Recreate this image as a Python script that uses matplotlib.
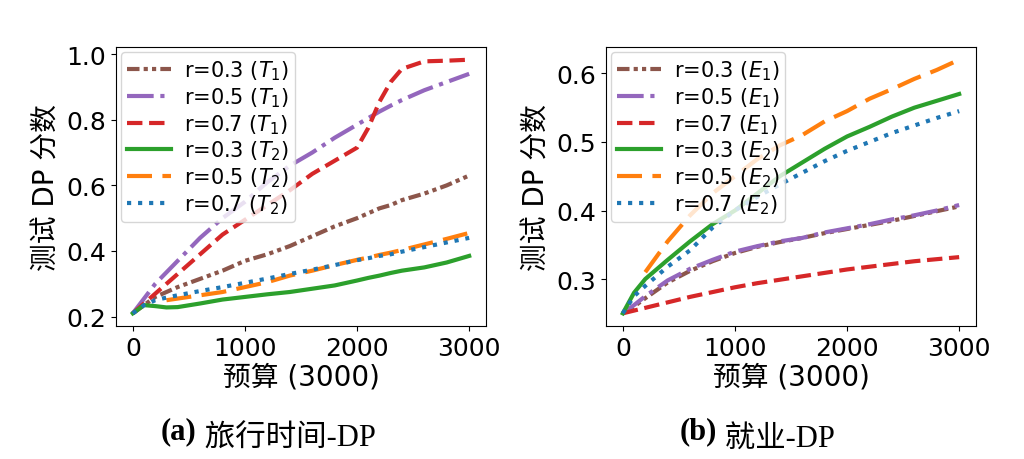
import numpy as np
import matplotlib
matplotlib.use("Agg")
import matplotlib.pyplot as plt

nan = np.nan

# ---- data ----
budget_a = [0, 100, 200, 300, 400, 600, 800, 1000, 1200, 1400, 1600, 1800,
            2000, 2100, 2200, 2300, 2400, 2600, 2800, 3000]
t1_r03 = [0.21, 0.235, 0.26, 0.275, 0.29, 0.315, 0.34, 0.37, 0.39, 0.415, 0.445,
          0.475, 0.50, 0.515, 0.53, 0.54, 0.555, 0.575, 0.60, 0.63]
t1_r05 = [0.21, 0.255, 0.30, 0.335, 0.37, 0.44, 0.50, 0.55, 0.61, 0.66, 0.70,
          0.745, 0.785, 0.805, 0.825, 0.843, 0.86, 0.89, 0.915, 0.94]
t1_r07 = [0.21, 0.24, 0.27, 0.30, 0.33, 0.39, 0.45, 0.495, 0.54, 0.585, 0.635,
          0.675, 0.715, 0.775, 0.855, 0.915, 0.955, 0.978, 0.98, 0.983]
t2_r03 = [0.21, 0.235, 0.232, 0.228, 0.229, 0.24, 0.252, 0.26, 0.268, 0.275,
          0.285, 0.295, 0.31, 0.318, 0.325, 0.333, 0.34, 0.35, 0.365, 0.385]
t2_r05 = [nan, nan, nan, 0.25, 0.255, 0.265, 0.275, 0.29, 0.305, 0.325, 0.34,
          0.357, 0.373, 0.38, 0.388, 0.395, 0.403, 0.42, 0.437, 0.455]
t2_r07 = [0.21, 0.235, 0.25, 0.258, 0.265, 0.278, 0.29, 0.303, 0.316, 0.33,
          0.343, 0.357, 0.372, 0.378, 0.385, 0.39, 0.398, 0.412, 0.426, 0.44]

budget_b = [0, 100, 200, 400, 600, 800, 1000, 1200, 1400, 1600, 1800, 2000,
            2200, 2400, 2600, 2800, 3000]
e1_r03 = [0.25, 0.26, 0.272, 0.295, 0.312, 0.326, 0.338, 0.347, 0.354, 0.36,
          0.367, 0.373, 0.379, 0.385, 0.392, 0.399, 0.406]
e1_r05 = [0.25, 0.262, 0.275, 0.298, 0.315, 0.328, 0.34, 0.348, 0.355, 0.36,
          0.368, 0.374, 0.38, 0.387, 0.393, 0.40, 0.408]
e1_r07 = [0.25, 0.254, 0.258, 0.266, 0.274, 0.281, 0.288, 0.294, 0.299, 0.304,
          0.309, 0.314, 0.318, 0.322, 0.326, 0.329, 0.332]
e2_r03 = [0.25, 0.28, 0.30, 0.328, 0.355, 0.38, 0.40, 0.425, 0.45, 0.47, 0.49,
          0.508, 0.522, 0.537, 0.55, 0.56, 0.57]
e2_r05 = [nan, nan, 0.31, 0.355, 0.393, 0.425, 0.45, 0.475, 0.495, 0.51, 0.53,
          0.545, 0.563, 0.577, 0.592, 0.605, 0.62]
e2_r07 = [0.25, 0.275, 0.29, 0.318, 0.342, 0.375, 0.40, 0.42, 0.438, 0.455,
          0.472, 0.487, 0.50, 0.513, 0.524, 0.535, 0.545]

r_vals = ["0.3", "0.5", "0.7"]
colors = ["#8c564b", "#9467bd", "#d62728", "#2ca02c", "#ff7f0e", "#1f77b4"]
styles = [(0, (3, 1, 1, 1, 1, 1)), "-.", "--", "-", (0, (6, 2.5)), ":"]

cjk = ["DejaVu Sans", "Noto Sans CJK SC"]
serif_cjk = ["Liberation Serif", "Noto Sans CJK SC"]

fig = plt.figure(figsize=(10.24, 4.6), dpi=100)
ax1 = fig.add_axes([0.1133, 0.2891, 0.3613, 0.6065])
ax2 = fig.add_axes([0.5918, 0.2891, 0.3613, 0.6065])


def draw(ax, x, series, tags):
    for i, y in enumerate(series):
        lab = "r=%s ($%s_%d$)" % (r_vals[i % 3], tags, 1 if i < 3 else 2)
        ax.plot(x, y, color=colors[i], linestyle=styles[i], lw=3, label=lab)
    ax.set_xticks([0, 1000, 2000, 3000])
    ax.tick_params(labelsize=18)
    ax.set_xlabel("预算 (3000)", fontsize=20, family=cjk, labelpad=2)
    ax.set_ylabel("测试 DP 分数", fontsize=20, family=cjk, labelpad=4)
    ax.legend(loc="upper left", fontsize=15, labelspacing=0.15, borderpad=0.3,
              handlelength=2.1, handletextpad=0.6, borderaxespad=0.25)


draw(ax1, budget_a, [t1_r03, t1_r05, t1_r07, t2_r03, t2_r05, t2_r07], "T")
ax1.set_yticks([0.2, 0.4, 0.6, 0.8, 1.0])
draw(ax2, budget_b, [e1_r03, e1_r05, e1_r07, e2_r03, e2_r05, e2_r07], "E")
ax2.set_yticks([0.3, 0.4, 0.5, 0.6])

# sub-captions: bold "(a)" followed by the title
for cx, tag, title in [(0.157, "(a)", " 旅行时间-DP"), (0.664, "(b)", " 就业-DP")]:
    t = fig.text(cx, 0.045, tag, fontsize=22, weight="bold", family=serif_cjk,
                 ha="left", va="baseline")
    ax1.annotate(title, xy=(1, 0), xycoords=t, fontsize=22, family=serif_cjk,
                 ha="left", va="baseline", annotation_clip=False)

fig.savefig("out.png", dpi=100)
